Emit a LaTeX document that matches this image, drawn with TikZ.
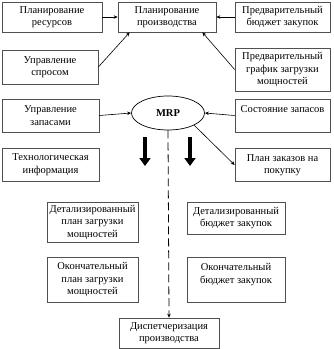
\documentclass[tikz,border=0pt]{standalone}
\usepackage{fontspec}
\setmainfont{Liberation Serif}
\usepackage{tikz}
\usetikzlibrary{calc, positioning, arrows.meta, shapes.geometric}
\definecolor{boxline}{RGB}{80, 80, 80}

\begin{document}
\begin{tikzpicture}[x=1pt, y=-1pt,
    box/.style={draw=boxline, line width=0.7pt, align=center, inner sep=1pt,
                font=\fontsize{10.5}{12.5}\selectfont},
    link/.style={line width=0.6pt, -{Stealth[length=4pt, width=3.5pt]}},
    bigarrow/.style={line width=4pt, -{Triangle[length=8pt, width=11pt]}}]
  \useasboundingbox (0,0) rectangle (333,349);

  % --- Top row ---
  \node[box, minimum width=100pt, minimum height=30pt] (res) at (52,17) {Планирование\\ресурсов};
  \node[box, minimum width=98pt, minimum height=30pt] (prod) at (167,17) {Планирование\\производства};
  \node[box, minimum width=95pt, minimum height=30pt] (budgetpre) at (282.5,17) {Предварительный\\бюджет закупок};
  \node[box, minimum width=96pt, minimum height=34pt] (demand) at (50,67) {Управление\\спросом};
  \node[box, minimum width=95pt, minimum height=43pt] (loadpre) at (282.5,69.5) {Предварительный\\график загрузки\\мощностей};

  % --- MRP row ---
  \node[draw, ellipse, line width=0.7pt, minimum width=73pt, minimum height=34pt,
        font=\fontsize{10.5}{12.5}\selectfont\bfseries] (mrp) at (168,113) {MRP};
  \node[box, minimum width=97pt, minimum height=33pt] (stock) at (50.5,115.5) {Управление\\запасами};
  \node[box, minimum width=95pt, minimum height=33pt] (state) at (282.5,115.5) {Состояние запасов\\~};
  \node[box, minimum width=97pt, minimum height=33pt] (tech) at (50.5,164.5) {Технологическая\\информация};
  \node[box, minimum width=95pt, minimum height=33pt] (order) at (282.5,165) {План заказов на\\покупку};

  % --- Lower boxes ---
  \node[box, minimum width=91pt, minimum height=40pt] (detload) at (92.5,222) {Детализированный\\план загрузки\\мощностей};
  \node[box, minimum width=98pt, minimum height=32pt] (detbudget) at (236,218) {Детализированный\\бюджет закупок};
  \node[box, minimum width=91pt, minimum height=45pt] (finload) at (92.5,279.5) {Окончательный\\план загрузки\\мощностей};
  \node[box, minimum width=98pt, minimum height=45pt] (finbudget) at (236,279.5) {Окончательный\\бюджет закупок\\~};
  \node[box, minimum width=100pt, minimum height=30pt] (dispatch) at (169,333) {Диспетчеризация\\производства};

  % --- Connectors ---
  \draw[link] (res.east) -- (prod.west);
  \draw[link] (budgetpre.west) -- (prod.east);
  \draw[link] (demand.east) -- ($(prod.south west)+(12,0)$);
  \draw[link] (loadpre.west) -- ($(prod.south east)+(-14,0)$);
  \draw[link] (stock.east) -- (mrp.west);
  \draw[link] (state.west) -- (mrp.east);
  \draw[link] (mrp.-25) -- (order.west);
  \draw[link, line width=0.8pt, dash pattern=on 8pt off 4pt] (mrp.south) -- (dispatch.north);

  % --- Thick arrows ---
  \coordinate (lefttop) at (145,137);
  \coordinate (leftend) at (145,166);
  \coordinate (righttop) at (190,137);
  \coordinate (rightend) at (190,166);
  \draw[bigarrow] (lefttop) -- (leftend);
  \draw[bigarrow] (righttop) -- (rightend);
\end{tikzpicture}
\end{document}
